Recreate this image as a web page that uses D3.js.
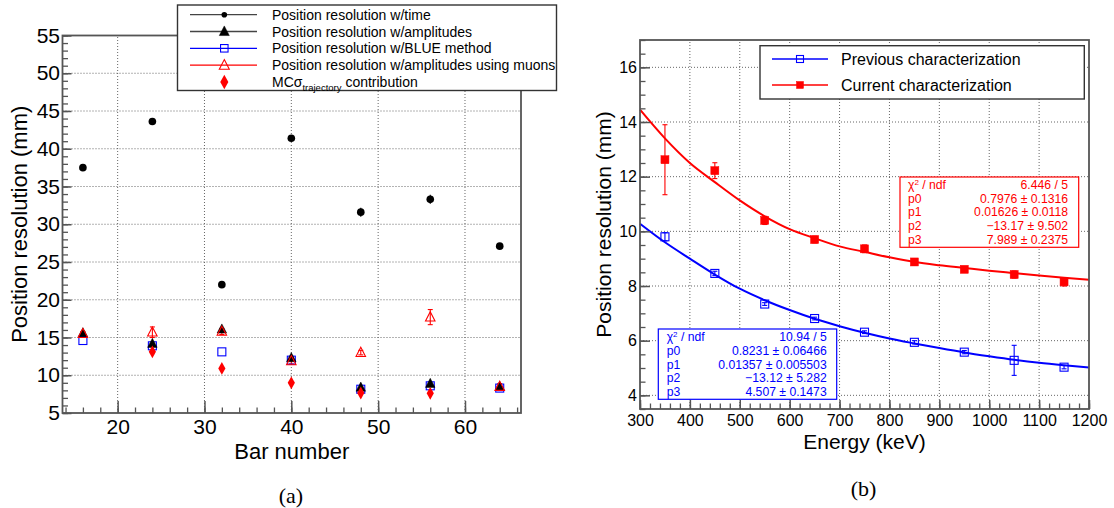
<!DOCTYPE html>
<html><head><meta charset="utf-8">
<script src="https://cdn.jsdelivr.net/npm/d3@7"></script>
<style>
html,body{margin:0;padding:0;background:#fff;}
svg{display:block;font-family:"Liberation Sans",Arial,Helvetica,sans-serif;}
</style></head>
<body>
<svg id="c" width="1114" height="508"></svg>
<script>
// ---------- Left panel (a) data ----------
const barNumbers = [16, 24, 32, 40, 48, 56, 64];
const resTime      = [37.5, 43.6, 22.0, 41.4, 31.6, 33.3, 27.1];
const resTimeErr   = [0.3, 0.3, 0.3, 0.4, 0.6, 0.6, 0.3];
const resAmp       = [15.6, 14.2, 16.1, 12.3, 8.4, 8.9, 8.5];
const resAmpErr    = [0.3, 0.5, 0.4, 0.4, 0.5, 0.5, 0.4];
const resBlue      = [14.6, 13.9, 13.1, 12.0, 8.15, 8.6, 8.3];
const resMuons     = [15.5, 15.7, 15.8, 11.9, 13.0, 17.7, 8.5];
const resMuonsErr  = [0.3, 0.7, 0.4, 0.4, 0.3, 1.0, 0.4];
const mcBars       = [24, 32, 40, 48, 56];
const mcTrajectory = [13.1, 10.9, 9.0, 7.65, 7.6];
const mcErr        = [0.5, 0.5, 0.5, 0.5, 0.5];
const leftYTicks = [5, 10, 15, 20, 25, 30, 35, 40, 45, 50, 55];
const leftXTicks = [20, 30, 40, 50, 60];
const leftLegend = ["Position resolution w/time", "Position resolution w/amplitudes",
  "Position resolution w/BLUE method", "Position resolution w/amplitudes using muons"];

// ---------- Right panel (b) data ----------
const energies = [350, 450, 550, 650, 750, 850, 950, 1050, 1150];
const prevRes    = [9.80, 8.46, 7.34, 6.81, 6.31, 5.94, 5.58, 5.28, 5.03];
const prevErr    = [0.15, 0.08, 0.05, 0.05, 0.05, 0.06, 0.06, 0.55, 0.06];
const currRes    = [12.62, 12.22, 10.40, 9.70, 9.36, 8.88, 8.61, 8.42, 8.15];
const currErr    = [1.28, 0.29, 0.15, 0.12, 0.14, 0.12, 0.10, 0.13, 0.15];
const fitEnergies = [300,350,400,450,500,550,600,650,700,750,800,850,900,950,1000,1050,1100,1150,1200];
const prevFit = [10.28,9.60,9.00,8.42,7.90,7.48,7.12,6.80,6.53,6.29,6.08,5.90,5.73,5.57,5.43,5.30,5.19,5.10,5.02];
const currFit = [14.45,13.40,12.50,11.80,11.13,10.55,10.08,9.75,9.45,9.25,9.05,8.88,8.76,8.66,8.56,8.47,8.38,8.30,8.23];
const rightYTicks = [4, 6, 8, 10, 12, 14, 16];
const rightXTicks = [300,400,500,600,700,800,900,1000,1100,1200];
const rightLegend = ["Previous characterization", "Current characterization"];
const statLabels = ["p0", "p1", "p2", "p3"];
const currStats = ["6.446 / 5", "0.7976 \u00b1 0.1316", "0.01626 \u00b1 0.0118", "\u221213.17 \u00b1 9.502", "7.989 \u00b1 0.2375"];
const prevStats = ["10.94 / 5", "0.8231 \u00b1 0.06466", "0.01357 \u00b1 0.005503", "\u221213.12 \u00b1 5.282", "4.507 \u00b1 0.1473"];

const svg = d3.select("#c");
const RED = "#ff0000", BLUE = "#0000ff", FRAME = "#555";

// marker helpers
function marker(g, type, cx, cy, color, s) {
  if (type === "dot") g.append("circle").attr("cx", cx).attr("cy", cy).attr("r", s).attr("fill", color);
  else if (type === "tri" || type === "otri") {
    const h = s * 0.9;
    g.append("path").attr("d", `M${cx},${cy - h * 0.62}L${cx + s / 2},${cy + h * 0.45}L${cx - s / 2},${cy + h * 0.45}Z`)
      .attr("fill", type === "tri" ? color : "none").attr("stroke", color).attr("stroke-width", type === "tri" ? 0.5 : 1.1);
  } else if (type === "osq" || type === "sq") {
    g.append("rect").attr("x", cx - s / 2).attr("y", cy - s / 2).attr("width", s).attr("height", s)
      .attr("fill", type === "sq" ? color : "none").attr("stroke", color).attr("stroke-width", type === "sq" ? 0.5 : 1.1);
  } else if (type === "dia") {
    g.append("path").attr("d", `M${cx},${cy - s * 0.8}L${cx + s * 0.45},${cy}L${cx},${cy + s * 0.8}L${cx - s * 0.45},${cy}Z`)
      .attr("fill", color);
  }
}
function errbar(g, cx, y1, y2, color, cap) {
  g.append("line").attr("x1", cx).attr("x2", cx).attr("y1", y1).attr("y2", y2).attr("stroke", color).attr("stroke-width", 1.1);
  if (cap) {
    [y1, y2].forEach(y => g.append("line").attr("x1", cx - cap).attr("x2", cx + cap).attr("y1", y).attr("y2", y)
      .attr("stroke", color).attr("stroke-width", 1.1));
  }
}
function grid(g, xs, ys, xv, yv) {
  const [x0, x1] = xs.range(), [y0, y1] = ys.range();
  xv.forEach(v => g.append("line").attr("x1", xs(v)).attr("x2", xs(v)).attr("y1", y0).attr("y2", y1)
    .attr("stroke", "#555").attr("stroke-width", 0.9).attr("stroke-dasharray", "1,2"));
  yv.forEach(v => g.append("line").attr("x1", x0).attr("x2", x1).attr("y1", ys(v)).attr("y2", ys(v))
    .attr("stroke", "#555").attr("stroke-width", 0.9).attr("stroke-dasharray", "1,2"));
}
function axes(g, xs, ys, o) {
  const [x0, x1] = xs.range(), [y0, y1] = ys.range();
  // minor
  g.append("g").attr("transform", `translate(${x0},0)`).call(d3.axisLeft(ys).tickValues(o.yMinor).tickSize(-o.minorLen).tickFormat(""))
    .call(a => a.select(".domain").remove()).selectAll("line").attr("stroke", FRAME).attr("stroke-width", 1.3);
  g.append("g").attr("transform", `translate(0,${y0})`).call(d3.axisBottom(xs).tickValues(o.xMinor).tickSize(-o.minorLen).tickFormat(""))
    .call(a => a.select(".domain").remove()).selectAll("line").attr("stroke", FRAME).attr("stroke-width", 1.3);
  // major
  const ya = g.append("g").attr("transform", `translate(${x0},0)`)
    .call(d3.axisLeft(ys).tickValues(o.yMajor).tickSize(-o.yMajorLen).tickPadding(o.yPad).tickFormat(d3.format("d")));
  ya.select(".domain").remove();
  ya.selectAll("line").attr("stroke", FRAME).attr("stroke-width", 1.5);
  ya.selectAll("text").attr("font-size", o.fs).attr("font-family", "Liberation Sans, Arial").attr("fill", "#000");
  const xa = g.append("g").attr("transform", `translate(0,${y0})`)
    .call(d3.axisBottom(xs).tickValues(o.xMajor).tickSize(-o.xMajorLen).tickPadding(o.xPad).tickFormat(d3.format("d")));
  xa.select(".domain").remove();
  xa.selectAll("line").attr("stroke", FRAME).attr("stroke-width", 1.5);
  xa.selectAll("text").attr("font-size", o.fs).attr("font-family", "Liberation Sans, Arial").attr("fill", "#000");
  // frame
  g.append("rect").attr("x", x0).attr("y", y1).attr("width", x1 - x0).attr("height", y0 - y1)
    .attr("fill", "none").attr("stroke", FRAME).attr("stroke-width", 1.8);
}

// ================= LEFT PANEL =================
const xL = d3.scaleLinear().domain([13.65, 66.45]).range([62.5, 521]);
const yL = d3.scaleLinear().domain([5, 55]).range([413, 35.5]);
const gL = svg.append("g");
grid(gL, xL, yL, leftXTicks, leftYTicks.filter(v => v > 5 && v < 55));

const gLp = gL.append("g");
barNumbers.forEach((b, i) => {
  errbar(gLp, xL(b), yL(resMuons[i] + resMuonsErr[i]), yL(resMuons[i] - resMuonsErr[i]), RED, 2.5);
});
barNumbers.forEach((b, i) => {
  errbar(gLp, xL(b), yL(resTime[i] + resTimeErr[i]), yL(resTime[i] - resTimeErr[i]), "#000", 0);
  marker(gLp, "dot", xL(b), yL(resTime[i]), "#000", 3.8);
});
barNumbers.forEach((b, i) => marker(gLp, "osq", xL(b), yL(resBlue[i]), BLUE, 8));
barNumbers.forEach((b, i) => {
  errbar(gLp, xL(b), yL(resAmp[i] + resAmpErr[i]), yL(resAmp[i] - resAmpErr[i]), "#000", 0);
  marker(gLp, "tri", xL(b), yL(resAmp[i]), "#000", 9.5);
});
mcBars.forEach((b, i) => {
  errbar(gLp, xL(b), yL(mcTrajectory[i] + mcErr[i]), yL(mcTrajectory[i] - mcErr[i]), RED, 0);
  marker(gLp, "dia", xL(b), yL(mcTrajectory[i]), RED, 8);
});
barNumbers.forEach((b, i) => marker(gLp, "otri", xL(b), yL(resMuons[i]), RED, 9.5));

axes(gL, xL, yL, {
  yMinor: d3.range(5, 55.01, 1), xMinor: d3.range(14, 66.1, 2),
  yMajor: leftYTicks, xMajor: leftXTicks, minorLen: 5.5, yMajorLen: 9, xMajorLen: 12,
  yPad: 2.5, xPad: 6, fs: 21
});
gL.append("text").attr("x", (62.5 + 521) / 2).attr("y", 459).attr("text-anchor", "middle")
  .attr("font-size", 22).text("Bar number");
gL.append("text").attr("transform", `translate(27,${(35.5 + 413) / 2}) rotate(-90)`).attr("text-anchor", "middle")
  .attr("font-size", 22).text("Position resolution (mm)");

// left legend
const lg = svg.append("g");
lg.append("rect").attr("x", 177.5).attr("y", 5).attr("width", 379).attr("height", 85.5)
  .attr("fill", "#fff").attr("stroke", "#333").attr("stroke-width", 1.4);
const legRowsY = [14.7, 31.5, 48.3, 65.2, 82];
const legTypes = [["dot", "#000", "#444"], ["tri", "#000", "#444"], ["osq", BLUE, BLUE], ["otri", RED, RED]];
leftLegend.forEach((t, i) => {
  const y = legRowsY[i];
  lg.append("line").attr("x1", 190).attr("x2", 257).attr("y1", y).attr("y2", y)
    .attr("stroke", legTypes[i][2]).attr("stroke-width", 1.3);
  marker(lg, legTypes[i][0], 224.3, y, legTypes[i][1], legTypes[i][0] === "dot" ? 2.8 : (legTypes[i][0] === "osq" ? 7.5 : 10));
  lg.append("text").attr("x", 272).attr("y", y).attr("dy", "0.36em").attr("font-size", 14).text(t);
});
marker(lg, "dia", 224.3, legRowsY[4], RED, 9);
const mcText = lg.append("text").attr("x", 272).attr("y", legRowsY[4]).attr("dy", "0.36em").attr("font-size", 14);
mcText.append("tspan").text("MC\u03c3");
mcText.append("tspan").attr("font-size", 9.5).attr("dy", 4).text("trajectory");
mcText.append("tspan").attr("dy", -4).text(" contribution");

svg.append("text").attr("x", 291).attr("y", 495).attr("dy", "0.35em").attr("text-anchor", "middle")
  .attr("font-family", "Liberation Serif, Times New Roman, serif").attr("font-size", 22).text("(a)");

// ================= RIGHT PANEL =================
const xR = d3.scaleLinear().domain([300, 1200]).range([640, 1089]);
const yR = d3.scaleLinear().domain([3.5, 17]).range([409, 40]);
const gR = svg.append("g");
grid(gR, xR, yR, rightXTicks.filter(v => v > 300 && v < 1200), rightYTicks);

const line = d3.line().x(d => xR(d[0])).y(d => yR(d[1])).curve(d3.curveMonotoneX);
gR.append("path").attr("d", line(fitEnergies.map((e, i) => [e, currFit[i]])))
  .attr("fill", "none").attr("stroke", RED).attr("stroke-width", 2);
gR.append("path").attr("d", line(fitEnergies.map((e, i) => [e, prevFit[i]])))
  .attr("fill", "none").attr("stroke", BLUE).attr("stroke-width", 2);

energies.forEach((e, i) => {
  errbar(gR, xR(e), yR(currRes[i] + currErr[i]), yR(currRes[i] - currErr[i]), RED, 2.5);
  marker(gR, "sq", xR(e), yR(currRes[i]), RED, 8);
  errbar(gR, xR(e), yR(prevRes[i] + prevErr[i]), yR(prevRes[i] - prevErr[i]), BLUE, 2.5);
  marker(gR, "osq", xR(e), yR(prevRes[i]), BLUE, 8);
});

axes(gR, xR, yR, {
  yMinor: d3.range(3.5, 17.01, 0.5), xMinor: d3.range(300, 1200.1, 20),
  yMajor: rightYTicks, xMajor: rightXTicks, minorLen: 5.5, yMajorLen: 10, xMajorLen: 9,
  yPad: 3, xPad: 6, fs: 16
});
gR.append("text").attr("x", (640 + 1089) / 2).attr("y", 449).attr("text-anchor", "middle")
  .attr("font-size", 21).text("Energy (keV)");
gR.append("text").attr("transform", `translate(611,${(40 + 409) / 2}) rotate(-90)`).attr("text-anchor", "middle")
  .attr("font-size", 21).text("Position resolution (mm)");

// right legend
const rg = svg.append("g");
rg.append("rect").attr("x", 760).attr("y", 45.7).attr("width", 324.3).attr("height", 53.3)
  .attr("fill", "#fff").attr("stroke", "#333").attr("stroke-width", 1.4);
[[59, BLUE, "osq"], [85, RED, "sq"]].forEach((r, i) => {
  rg.append("line").attr("x1", 772).attr("x2", 828).attr("y1", r[0]).attr("y2", r[0]).attr("stroke", r[1]).attr("stroke-width", 1.3);
  marker(rg, r[2], 800, r[0], r[1], 7);
  rg.append("text").attr("x", 841).attr("y", r[0]).attr("dy", "0.36em").attr("font-size", 16).text(rightLegend[i]);
});

// stat boxes
function statBox(x0, y0, w, h, lx, rx, rows, vals, color) {
  const g = svg.append("g");
  g.append("rect").attr("x", x0).attr("y", y0).attr("width", w).attr("height", h)
    .attr("fill", "#fff").attr("stroke", color).attr("stroke-width", 1.2);
  const labs = ["chi"].concat(statLabels);
  labs.forEach((l, i) => {
    const t = g.append("text").attr("x", lx).attr("y", rows[i]).attr("dy", "0.36em").attr("font-size", 12.2).attr("fill", color);
    if (l === "chi") {
      t.append("tspan").text("\u03c7");
      t.append("tspan").attr("font-size", 8).attr("dy", -4).text("2");
      t.append("tspan").attr("dy", 4).text(" / ndf");
    } else t.text(l);
    g.append("text").attr("x", rx).attr("y", rows[i]).attr("dy", "0.36em").attr("text-anchor", "end")
      .attr("font-size", 12.2).attr("fill", color).text(vals[i]);
  });
}
statBox(900, 177, 178.7, 70.3, 908, 1068, [184.3, 198.3, 212, 226, 239.7], currStats, RED);
statBox(658.3, 329, 178.4, 70.3, 666.7, 826.7, [336.7, 350.7, 364.3, 378, 391.7], prevStats, BLUE);

svg.append("text").attr("x", 863.5).attr("y", 488).attr("dy", "0.35em").attr("text-anchor", "middle")
  .attr("font-family", "Liberation Serif, Times New Roman, serif").attr("font-size", 22).text("(b)");
</script>
</body></html>
